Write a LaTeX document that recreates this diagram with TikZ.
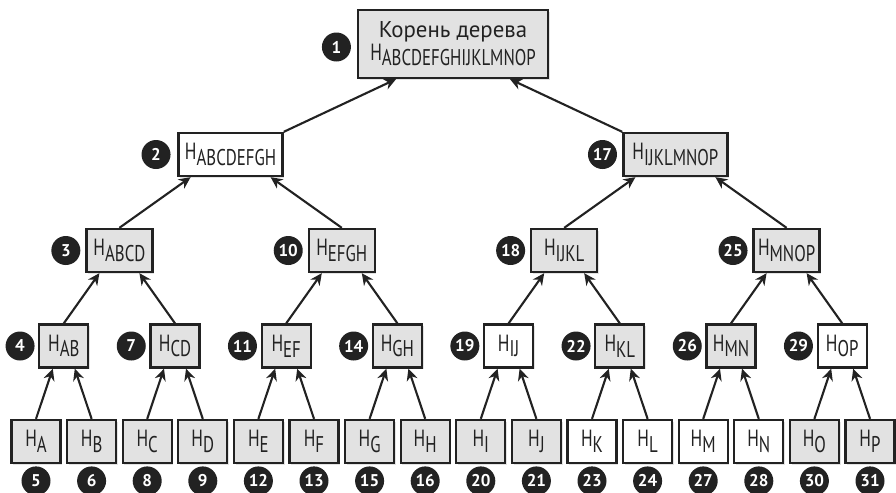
\documentclass[tikz,border=0pt]{standalone}
\usepackage{fontspec}
\setmainfont{PT Sans}[FakeStretch=0.74]
\newfontfamily\widefont{PT Sans}
\usetikzlibrary{arrows.meta,calc,positioning,shadows}
\definecolor{ink}{HTML}{222222}
\definecolor{boxgray}{HTML}{E2E2E2}
\newcommand{\hsub}[1]{H\raisebox{-0.24em}{\scalebox{0.97}{#1}}}

\begin{document}
\begin{tikzpicture}[
  x=0.03cm,y=-0.03cm,
  font=\fontsize{20}{22}\selectfont,
  arrow/.style={-{Stealth[length=10pt,width=9.5pt]},line width=1.8pt,draw=ink},
  hashbox/.style={draw=ink,line width=2pt,inner sep=0pt,text=ink,
                  minimum width=1.47cm,minimum height=1.29cm,
                  drop shadow={opacity=0.22,shadow xshift=0.05cm,shadow yshift=-0.05cm}},
  rootbox/.style={hashbox,fill=boxgray,minimum width=5.7cm,minimum height=2.04cm,
                  align=center},
  badge/.style={circle,fill=ink,text=white,inner sep=0pt,minimum size=0.87cm,
                font=\widefont\bfseries\fontsize{14.5}{14.5}\selectfont}
]
\useasboundingbox (0,0) rectangle (896,492);

% Root
\node[rootbox] (root) at (453,44)
  {{\widefont\fontsize{19.5}{21}\selectfont Корень дерева}\\[-3pt]\hsub{ABCDEFGHIJKLMNOP}};
\node[badge,left=0.17cm of root,yshift=-0.09cm] (b1) {1};

% Level 3
\node[hashbox,fill=white,minimum width=3.12cm] (hABCDEFGH) at (230.6,154.5) {\hsub{ABCDEFGH}};
\node[badge,left=0.2cm of hABCDEFGH] (b2) {2};
\node[hashbox,fill=boxgray,minimum width=3.12cm] (hIJKLMNOP) at (675.4,154.5) {\hsub{IJKLMNOP}};
\node[badge,left=0.15cm of hIJKLMNOP] (b17) {17};

% Level 2
\foreach \l/\n [count=\i from 0] in {ABCD/3,EFGH/10,IJKL/18,MNOP/25}
  \node[hashbox,fill=boxgray,minimum width=1.98cm] (h\l) at ({119.4+222.4*\i},250.5) {\hsub{\l}};
\foreach \l/\n in {ABCD/3,EFGH/10,IJKL/18,MNOP/25}
  \node[badge,left=0.14cm of h\l] (b\n) {\n};

% Level 1
\foreach \l/\n/\c [count=\i from 0] in {AB/4/boxgray,CD/7/boxgray,EF/11/boxgray,GH/14/boxgray,
                                        IJ/19/white,KL/22/boxgray,MN/26/boxgray,OP/29/white}
  \node[hashbox,fill=\c] (h\l) at ({63.8+111.2*\i},346) {\hsub{\l}};
\foreach \l/\n in {AB/4,CD/7,EF/11,GH/14,IJ/19,KL/22,MN/26,OP/29}
  \node[badge,left=0.1cm of h\l] (b\n) {\n};

% Leaves
\foreach \l/\n/\c [count=\i from 0] in {A/5/boxgray,B/6/boxgray,C/8/boxgray,D/9/boxgray,
                                        E/12/boxgray,F/13/boxgray,G/15/boxgray,H/16/boxgray,
                                        I/20/boxgray,J/21/boxgray,K/23/white,L/24/white,
                                        M/27/white,N/28/white,O/30/boxgray,P/31/boxgray}
  \node[hashbox,fill=\c] (h\l) at ({36+55.6*\i},441.5) {\hsub{\l}};
\foreach \l/\n in {A/5,B/6,C/8,D/9,E/12,F/13,G/15,H/16,I/20,J/21,K/23,L/24,M/27,N/28,O/30,P/31}
  \node[badge,below=0.06cm of h\l] (b\n) {\n};

% Arrows: child -> parent
\foreach \p/\a/\b in {AB/A/B,CD/C/D,EF/E/F,GH/G/H,IJ/I/J,KL/K/L,MN/M/N,OP/O/P} {
  \draw[arrow] (h\a.north) -- ($(h\p.south)+(-11,0)$);
  \draw[arrow] (h\b.north) -- ($(h\p.south)+(11,0)$);
}
\foreach \p/\a/\b in {ABCD/AB/CD,EFGH/EF/GH,IJKL/IJ/KL,MNOP/MN/OP} {
  \draw[arrow] (h\a.north) -- ($(h\p.south)+(-20,0)$);
  \draw[arrow] (h\b.north) -- ($(h\p.south)+(20,0)$);
}
\foreach \p/\a/\b in {ABCDEFGH/ABCD/EFGH,IJKLMNOP/IJKL/MNOP} {
  \draw[arrow] (h\a.north) -- ($(h\p.south)+(-40,0)$);
  \draw[arrow] (h\b.north) -- ($(h\p.south)+(40,0)$);
}
\draw[arrow] (hABCDEFGH.north east) -- ($(root.south)+(-57,0)$);
\draw[arrow] (hIJKLMNOP.north west) -- ($(root.south)+(57,0)$);

\end{tikzpicture}
\end{document}
